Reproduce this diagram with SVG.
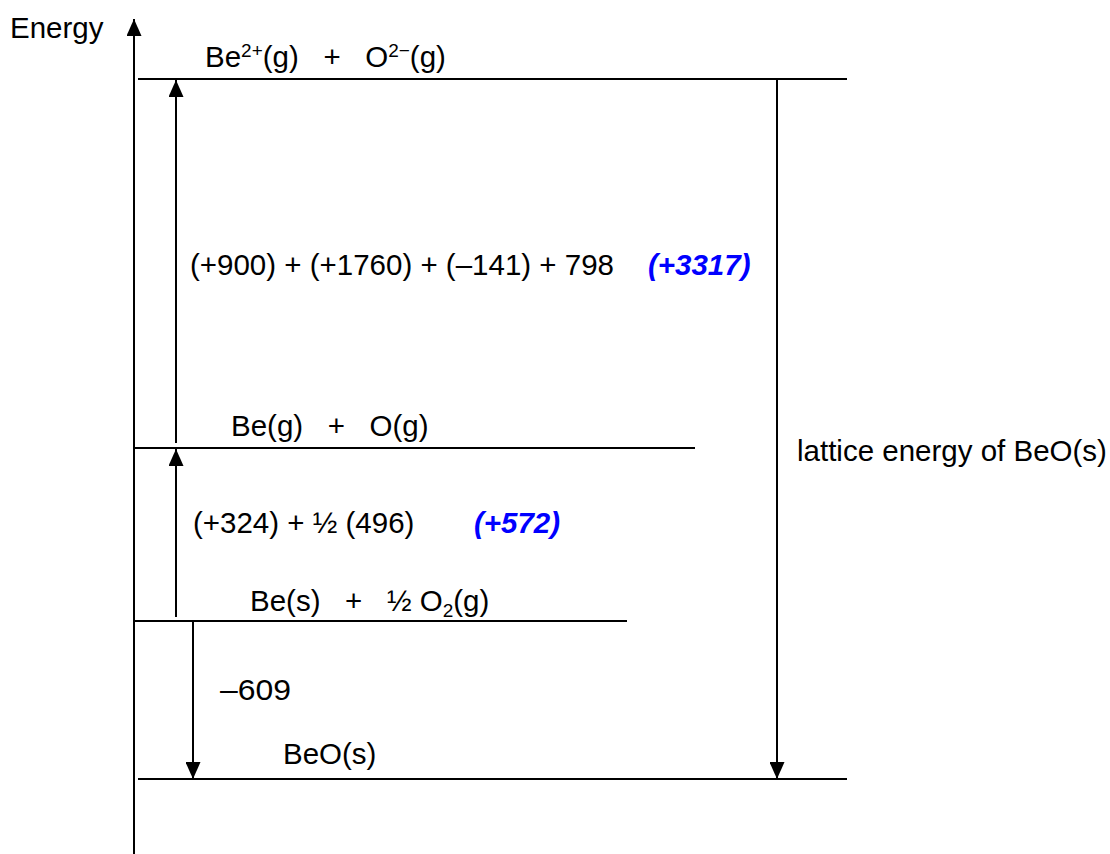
<svg xmlns="http://www.w3.org/2000/svg" width="1110" height="854" viewBox="0 0 1110 854">
<style>
text{font-family:"Liberation Sans",Arial,sans-serif;font-size:29.5px;fill:#000}
.sup{font-size:19px}
.blue{fill:#0000ff;font-weight:bold;font-style:italic}
.lvl{stroke:#000;stroke-width:2;fill:none}
.arr{stroke:#000;stroke-width:2;fill:none}
</style>
<defs>
<marker id="ah" viewBox="0 0 17 15" refX="17" refY="7.5" markerWidth="17" markerHeight="15" markerUnits="userSpaceOnUse" orient="auto">
<path d="M0,0 L17,7.5 L0,15 Z" fill="#000"/>
</marker>
</defs>
<g id="axis">
<line class="arr" x1="134" y1="854" x2="134" y2="19" marker-end="url(#ah)"/>
<text x="10" y="38">Energy</text>
</g>
<g id="level-ions">
<line class="lvl" x1="138" y1="79" x2="847" y2="79"/>
<text x="205" y="67" xml:space="preserve">Be<tspan class="sup" dy="-10">2+</tspan><tspan dy="10">(g)   +   O</tspan><tspan class="sup" dy="-10">2−</tspan><tspan dy="10">(g)</tspan></text>
</g>
<g id="level-atoms">
<line class="lvl" x1="134" y1="448" x2="695" y2="448"/>
<text x="231" y="436" xml:space="preserve">Be(g)   +   O(g)</text>
</g>
<g id="level-elements">
<line class="lvl" x1="134" y1="621" x2="627" y2="621"/>
<text x="250" y="611" xml:space="preserve">Be(s)   +   ½ O<tspan class="sup" dy="6">2</tspan><tspan dy="-6">(g)</tspan></text>
</g>
<g id="level-beo">
<line class="lvl" x1="138" y1="779" x2="847" y2="779"/>
<text x="283" y="764">BeO(s)</text>
</g>
<g id="connectors">
<line class="arr" x1="176" y1="443" x2="176" y2="80" marker-end="url(#ah)"/>
<line class="arr" x1="176" y1="617" x2="176" y2="449" marker-end="url(#ah)"/>
<line class="arr" x1="193" y1="621" x2="193" y2="779" marker-end="url(#ah)"/>
<line class="arr" x1="777" y1="79" x2="777" y2="779" marker-end="url(#ah)"/>
</g>
<g id="labels">
<text x="190" y="275" xml:space="preserve">(+900) + (+1760) + (–141) + 798<tspan class="blue" x="648">(+3317)</tspan></text>
<text x="193" y="533" xml:space="preserve">(+324) + ½ (496)<tspan class="blue" x="474">(+572)</tspan></text>
<text x="220" y="700" textLength="71" lengthAdjust="spacingAndGlyphs">–609</text>
<text x="797" y="461">lattice energy of BeO(s)</text>
</g>
</svg>
